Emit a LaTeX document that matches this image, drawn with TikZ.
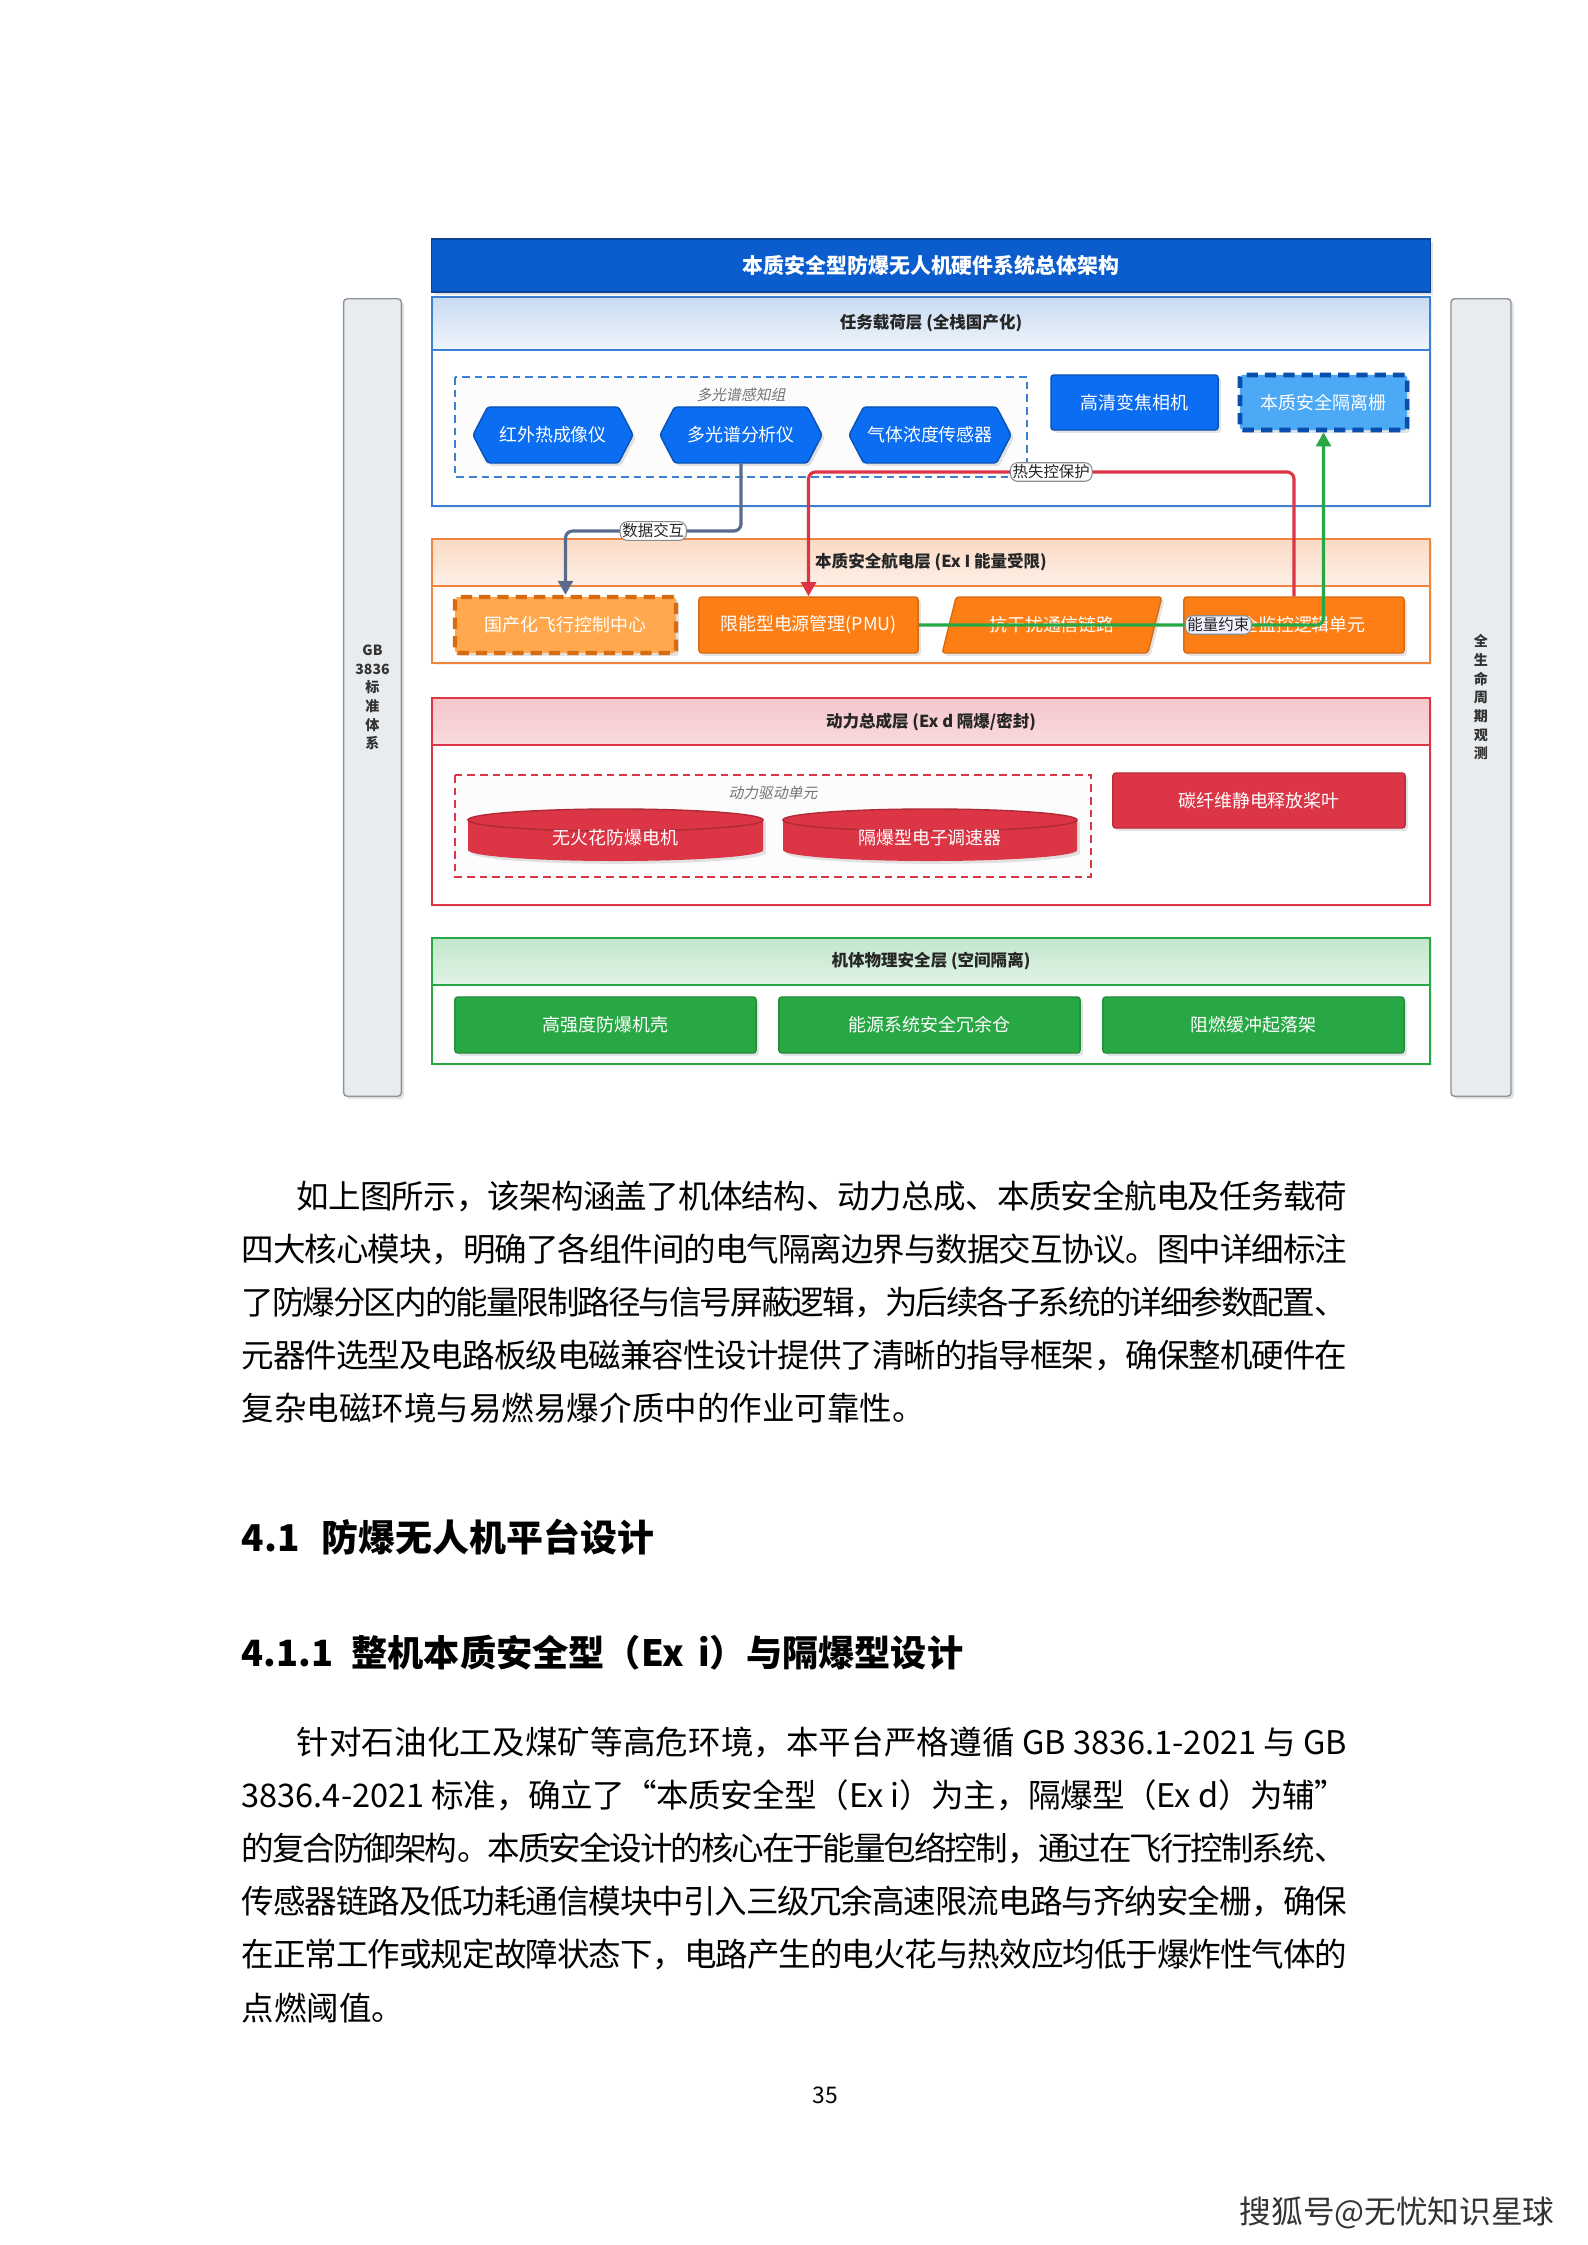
\documentclass[tikz,border=0pt]{standalone}
\usepackage{fontspec}
\setmainfont{Noto Sans CJK SC}
\newfontfamily\slantcjk[FakeSlant=0.2]{Noto Sans CJK SC}
\usetikzlibrary{positioning,shapes.geometric,shapes.symbols,shadows,arrows.meta}
\XeTeXlinebreaklocale "zh"
\XeTeXlinebreakskip=0pt plus 1pt minus 1pt

\definecolor{titleblue}{HTML}{0B5CCC}
\definecolor{taskblue}{HTML}{3D7FD0}
\definecolor{nodeblue}{HTML}{0B6EF2}
\definecolor{isoblue}{HTML}{4BA9F5}
\definecolor{avorange}{HTML}{F0843C}
\definecolor{nodeorange}{HTML}{FD7E14}
\definecolor{lightorange}{HTML}{FFA84D}
\definecolor{pwrred}{HTML}{DC3545}
\definecolor{physgreen}{HTML}{28A745}
\definecolor{linkgray}{HTML}{5B6B8A}
\definecolor{barfill}{HTML}{E9ECEF}
\definecolor{bardraw}{HTML}{8C939C}

\begin{document}
\begin{tikzpicture}[x=0.01cm, y=-0.01cm,
    shade/.style={drop shadow={opacity=0.22, shadow xshift=0.8pt, shadow yshift=-0.8pt}},
    box/.style={draw, rounded corners=0.8pt, align=center, text=white, inner sep=1pt,
        font=\fontsize{5.1pt}{6pt}\selectfont, shade},
    hexbox/.style={box, signal, signal to=west and east, signal pointer angle=125,
        fill=nodeblue, draw=nodeblue!75!black, minimum height=0.56cm},
    sidebar/.style={draw=bardraw, fill=barfill, rounded corners=1pt, align=center,
        font=\bfseries\fontsize{4pt}{5.3pt}\selectfont, text=black!80, shade},
    layer/.style={draw=#1, line width=0.6pt, fill=white,
        drop shadow={opacity=0.12, shadow xshift=0.6pt, shadow yshift=-0.6pt}},
    layerhead/.style={font=\bfseries\fontsize{4.7pt}{5.5pt}\selectfont, text=black!85},
    groupbox/.style={draw=#1, line width=0.5pt, dash pattern=on 2.2pt off 1.4pt, fill=black!1},
    grouplabel/.style={font=\slantcjk\fontsize{4.2pt}{5pt}\selectfont, text=black!55},
    lbl/.style={fill=white, draw=black!45, line width=0.3pt, inner sep=0.6pt,
        font=\fontsize{4.4pt}{5pt}\selectfont, text=black!85},
    link/.style={line width=0.9pt, rounded corners=2pt, -{Triangle[length=4pt,width=4.2pt]}},
    bodyline/.style={anchor=west, inner sep=0pt, text width=#1, align=justify,
        font=\fontsize{9.25pt}{11pt}\selectfont},
    lastline/.style={anchor=west, inner sep=0pt, font=\fontsize{9.25pt}{11pt}\selectfont},
    heading/.style={anchor=west, inner sep=0pt, font=\bfseries\fontsize{10.5pt}{12pt}\selectfont}]
    \useasboundingbox[fill=white] (0,0) rectangle (1587,2245);

    % Side bars
    \node[sidebar, minimum width=0.57cm, minimum height=7.97cm] (gb) at (372.5,697.5) {GB\\3836\\标\\准\\体\\系};
    \node[sidebar, minimum width=0.60cm, minimum height=7.97cm] (life) at (1481,697.5) {全\\生\\命\\周\\期\\观\\测};

    % Title bar
    \node[draw=titleblue!75!black, fill=titleblue, text=white, minimum width=9.98cm, minimum height=0.53cm,
        font=\bfseries\fontsize{5.95pt}{7pt}\selectfont, shade] (title) at (931,265.5) {本质安全型防爆无人机硬件系统总体架构};

    % Task payload layer
    \draw[layer=taskblue] (432,297) rectangle (1430,506);
    \draw[draw=taskblue, line width=0.6pt, top color=taskblue!28, bottom color=taskblue!8] (432,297) rectangle (1430,350);
    \node[layerhead] (taskhead) at (931,323.5) {任务载荷层 (全栈国产化)};
    \draw[groupbox=taskblue] (455,377) rectangle (1027,477);
    \node[grouplabel] (msgroup) at (741,395) {多光谱感知组};
    \node[hexbox, minimum width=1.60cm] (ir) at (553,435) {红外热成像仪};
    \node[hexbox, minimum width=1.62cm] (ms) at (741,435) {多光谱分析仪};
    \node[hexbox, minimum width=1.62cm] (gs) at (930,435) {气体浓度传感器};
    \node[box, fill=nodeblue, draw=nodeblue!75!black, minimum width=1.67cm, minimum height=0.55cm] (cam) at (1134.5,402.5) {高清变焦相机};
    \node[box, fill=isoblue, draw=titleblue!85!black, line width=1.3pt, dash pattern=on 3.2pt off 2pt,
        minimum width=1.67cm, minimum height=0.55cm] (iso) at (1323.5,402.5) {本质安全隔离栅};

    % Avionics layer
    \draw[layer=avorange] (432,539) rectangle (1430,663);
    \draw[draw=avorange, line width=0.6pt, top color=avorange!30, bottom color=avorange!12] (432,539) rectangle (1430,586);
    \node[layerhead] (avhead) at (931,562.5) {本质安全航电层 (Ex I 能量受限)};
    \node[box, fill=lightorange, draw=nodeorange!85!black, line width=1.2pt, dash pattern=on 3.2pt off 2pt,
        minimum width=2.21cm, minimum height=0.56cm] (fc) at (565.5,625) {国产化飞行控制中心};
    \node[box, fill=nodeorange, draw=nodeorange!85!black, minimum width=2.19cm, minimum height=0.56cm] (pmu) at (808.5,625) {限能型电源管理(PMU)};
    \node[box, trapezium, trapezium left angle=68, trapezium right angle=112, trapezium stretches=true,
        fill=nodeorange, draw=nodeorange!85!black, minimum width=2.2cm, minimum height=0.56cm] (comm) at (1052,625) {抗干扰通信链路};
    \node[box, fill=nodeorange, draw=nodeorange!85!black, minimum width=2.2cm, minimum height=0.56cm] (sm) at (1294,625) {安全监控逻辑单元};

    % Power layer
    \draw[layer=pwrred] (432,698) rectangle (1430,905);
    \draw[draw=pwrred, line width=0.6pt, top color=pwrred!28, bottom color=pwrred!18] (432,698) rectangle (1430,745);
    \node[layerhead] (pwhead) at (931,721.5) {动力总成层 (Ex d 隔爆/密封)};
    \draw[groupbox=pwrred] (455,775) rectangle (1091,877);
    \node[grouplabel] (drvgroup) at (773,793) {动力驱动单元};
    % disks
    \fill[pwrred, shade] (468,820) -- (468,850) arc[start angle=180, end angle=360, x radius=1.475cm, y radius=0.11cm]
        -- (763,820) arc[start angle=0, end angle=180, x radius=1.475cm, y radius=0.11cm] -- cycle;
    \draw[pwrred!80!black, line width=0.4pt] (615.5,820) ellipse [x radius=1.475cm, y radius=0.11cm];
    \node[text=white, font=\fontsize{5.1pt}{6pt}\selectfont] (m1) at (615.5,838) {无火花防爆电机};
    \fill[pwrred, shade] (783,820) -- (783,850) arc[start angle=180, end angle=360, x radius=1.47cm, y radius=0.11cm]
        -- (1077,820) arc[start angle=0, end angle=180, x radius=1.47cm, y radius=0.11cm] -- cycle;
    \draw[pwrred!80!black, line width=0.4pt] (930,820) ellipse [x radius=1.47cm, y radius=0.11cm];
    \node[text=white, font=\fontsize{5.1pt}{6pt}\selectfont] (m2) at (930,838) {隔爆型电子调速器};
    \node[box, fill=pwrred, draw=pwrred!85!black, minimum width=2.92cm, minimum height=0.55cm] (blade) at (1259,800.5) {碳纤维静电释放桨叶};

    % Physical layer
    \draw[layer=physgreen] (432,938) rectangle (1430,1064);
    \draw[draw=physgreen, line width=0.6pt, top color=physgreen!28, bottom color=physgreen!14] (432,938) rectangle (1430,985);
    \node[layerhead] (phhead) at (931,961.5) {机体物理安全层 (空间隔离)};
    \node[box, fill=physgreen, draw=physgreen!85!black, minimum width=3.01cm, minimum height=0.56cm] (s1) at (605.5,1025) {高强度防爆机壳};
    \node[box, fill=physgreen, draw=physgreen!85!black, minimum width=3.01cm, minimum height=0.56cm] (s2) at (929.5,1025) {能源系统安全冗余仓};
    \node[box, fill=physgreen, draw=physgreen!85!black, minimum width=3.01cm, minimum height=0.56cm] (s3) at (1253.5,1025) {阻燃缓冲起落架};

    % Connectors
    \draw[link, draw=linkgray] (ms.south) -- (ms.south |- 0,531) -- (fc.north |- 0,531)
        node[lbl, pos=0.5] (datalbl) {数据交互} -- (fc.north);
    \draw[link, draw=pwrred] (sm.north) -- (sm.north |- 0,472) -- (pmu.north |- 0,472)
        node[lbl, pos=0.5] (heatlbl) {热失控保护} -- (pmu.north);
    \draw[link, draw=physgreen] (pmu.east) -- (iso.south |- pmu.east)
        node[lbl, fill=blue!6, pos=0.74] (energylbl) {能量约束} -- (iso.south);

    % Body text
    \node[bodyline=10.50cm] (p1a) at (296,1196) {\noindent\parfillskip=0pt 如上图所示，该架构涵盖了机体结构、动力总成、本质安全航电及任务载荷\par};
    \node[bodyline=11.05cm] (p1b) at (241,1249) {\noindent\parfillskip=0pt 四大核心模块，明确了各组件间的电气隔离边界与数据交互协议。图中详细标注\par};
    \node[bodyline=11.05cm] (p1c) at (241,1302) {\noindent\parfillskip=0pt 了防爆分区内的能量限制路径与信号屏蔽逻辑，为后续各子系统的详细参数配置、\par};
    \node[bodyline=11.05cm] (p1d) at (241,1355) {\noindent\parfillskip=0pt 元器件选型及电路板级电磁兼容性设计提供了清晰的指导框架，确保整机硬件在\par};
    \node[lastline] (p1e) at (241,1408) {复杂电磁环境与易燃易爆介质中的作业可靠性。};

    \node[heading] (h41) at (241,1537) {4.1\hspace{0.6em}防爆无人机平台设计};
    \node[heading, font=\bfseries\fontsize{10.3pt}{12pt}\selectfont] (h411) at (241,1653) {4.1.1\hspace{0.5em}整机本质安全型（Ex\hspace{0.4em}i）与隔爆型设计};

    \node[bodyline=10.50cm] (p2a) at (296,1742) {\noindent\parfillskip=0pt 针对石油化工及煤矿等高危环境，本平台严格遵循 GB 3836.1-2021 与 GB\par};
    \node[bodyline=11.05cm] (p2b) at (241,1795) {\noindent\parfillskip=0pt 3836.4-2021 标准，确立了“本质安全型（Ex i）为主，隔爆型（Ex d）为辅”\par};
    \node[bodyline=11.05cm] (p2c) at (241,1848) {\noindent\parfillskip=0pt 的复合防御架构。本质安全设计的核心在于能量包络控制，通过在飞行控制系统、\par};
    \node[bodyline=11.05cm] (p2d) at (241,1901) {\noindent\parfillskip=0pt 传感器链路及低功耗通信模块中引入三级冗余高速限流电路与齐纳安全栅，确保\par};
    \node[bodyline=11.05cm] (p2e) at (241,1954) {\noindent\parfillskip=0pt 在正常工作或规定故障状态下，电路产生的电火花与热效应均低于爆炸性气体的\par};
    \node[lastline] (p2f) at (241,2008) {点燃阈值。};

    % Page number and mark
    \node[font=\fontsize{6.5pt}{8pt}\selectfont] (pageno) at (825,2095) {35};
    \node[font=\fontsize{9pt}{10pt}\selectfont, text=black!80, anchor=west, inner sep=0pt] (mark) at (1239,2213) {搜狐号@无忧知识星球};
\end{tikzpicture}
\end{document}
